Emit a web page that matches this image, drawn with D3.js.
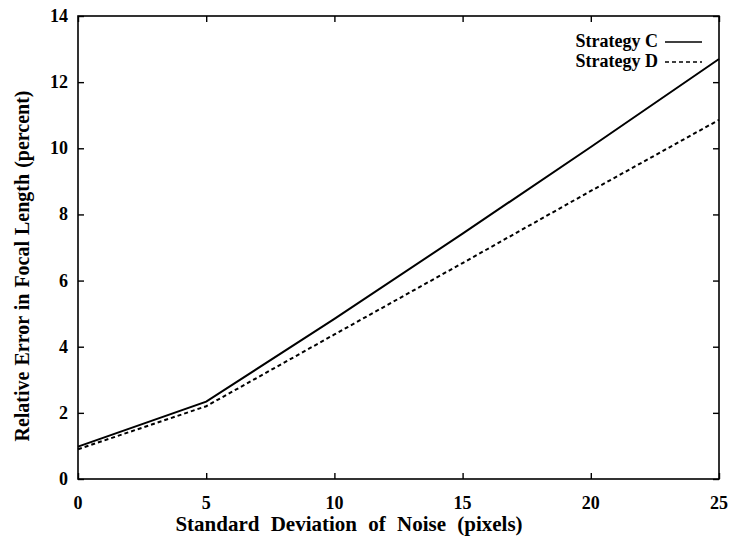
<!DOCTYPE html>
<html>
<head>
<meta charset="utf-8">
<script src="https://cdn.jsdelivr.net/npm/d3@7"></script>
<style>
  html, body { margin: 0; padding: 0; background: #fff; }
  svg { display: block; }
  text { font-family: "Liberation Serif", "Times New Roman", serif; fill: #000; }
</style>
</head>
<body>
<svg id="chart" width="732" height="546"></svg>
<script>
// Noise level (pixels) and relative focal-length error (%) per strategy
const noiseSd = [0, 5, 10, 15, 20, 25];
const strategyC = [0.98, 2.34, 4.84, 7.42, 10.04, 12.7];
const strategyD = [0.90, 2.20, 4.37, 6.53, 8.71, 10.86];
const xTicks = [0, 5, 10, 15, 20, 25];
const yTicks = [0, 2, 4, 6, 8, 10, 12, 14];
const seriesNames = ["Strategy C", "Strategy D"];

const svg = d3.select("#chart");
const plotLeft = 78, plotRight = 719, plotTop = 16, plotBottom = 479;

const x = d3.scaleLinear().domain([0, 25]).range([plotLeft, plotRight]);
const y = d3.scaleLinear().domain([0, 14]).range([plotBottom, plotTop]);

const tickLen = 6;
const axisStroke = 1.6;

// Frame
svg.append("rect")
  .attr("x", plotLeft).attr("y", plotTop)
  .attr("width", plotRight - plotLeft).attr("height", plotBottom - plotTop)
  .attr("fill", "none").attr("stroke", "#000").attr("stroke-width", axisStroke);

// Inward ticks on all four sides
function styleAxis(g) {
  g.select(".domain").remove();
  g.selectAll(".tick line").attr("stroke", "#000").attr("stroke-width", 1.4);
}
svg.append("g").attr("transform", `translate(0,${plotBottom})`)
  .call(d3.axisTop(x).tickValues(xTicks).tickSize(tickLen).tickFormat(""))
  .call(styleAxis);
svg.append("g").attr("transform", `translate(0,${plotTop})`)
  .call(d3.axisBottom(x).tickValues(xTicks).tickSize(tickLen).tickFormat(""))
  .call(styleAxis);
svg.append("g").attr("transform", `translate(${plotLeft},0)`)
  .call(d3.axisRight(y).tickValues(yTicks).tickSize(tickLen).tickFormat(""))
  .call(styleAxis);
svg.append("g").attr("transform", `translate(${plotRight},0)`)
  .call(d3.axisLeft(y).tickValues(yTicks).tickSize(tickLen).tickFormat(""))
  .call(styleAxis);

// Tick labels
svg.append("g").selectAll("text").data(xTicks).join("text")
  .attr("x", d => x(d)).attr("y", plotBottom + 30)
  .attr("text-anchor", "middle")
  .attr("font-size", 18).attr("font-weight", "bold")
  .text(d => d);
svg.append("g").selectAll("text").data(yTicks).join("text")
  .attr("x", plotLeft - 10).attr("y", d => y(d) + 6)
  .attr("text-anchor", "end")
  .attr("font-size", 18).attr("font-weight", "bold")
  .text(d => d);

// Axis titles
svg.append("text")
  .attr("x", 349).attr("y", 531)
  .attr("text-anchor", "middle")
  .attr("font-size", 21).attr("font-weight", "bold")
  .attr("word-spacing", 6)
  .text("Standard Deviation of Noise (pixels)");
svg.append("text")
  .attr("transform", `translate(29,266) rotate(-90)`)
  .attr("text-anchor", "middle")
  .attr("font-size", 20).attr("font-weight", "bold")
  .attr("word-spacing", 1)
  .text("Relative Error in Focal Length (percent)");

// Series lines
const line = d3.line().x((d, i) => x(noiseSd[i])).y(d => y(d));
svg.append("path").datum(strategyC)
  .attr("d", line).attr("fill", "none")
  .attr("stroke", "#000").attr("stroke-width", 2);
svg.append("path").datum(strategyD)
  .attr("d", line).attr("fill", "none")
  .attr("stroke", "#000").attr("stroke-width", 2)
  .attr("stroke-dasharray", "4,3");

// Legend
const legend = svg.append("g");
seriesNames.forEach((name, i) => {
  const ly = 42 + i * 20;
  legend.append("text")
    .attr("x", 658).attr("y", ly + 5)
    .attr("text-anchor", "end")
    .attr("font-size", 18).attr("font-weight", "bold")
    .text(name);
  legend.append("line")
    .attr("x1", 665).attr("x2", 702)
    .attr("y1", ly).attr("y2", ly)
    .attr("stroke", "#000").attr("stroke-width", 1.4)
    .attr("stroke-dasharray", i === 1 ? "4,3" : null);
});
</script>
</body>
</html>
